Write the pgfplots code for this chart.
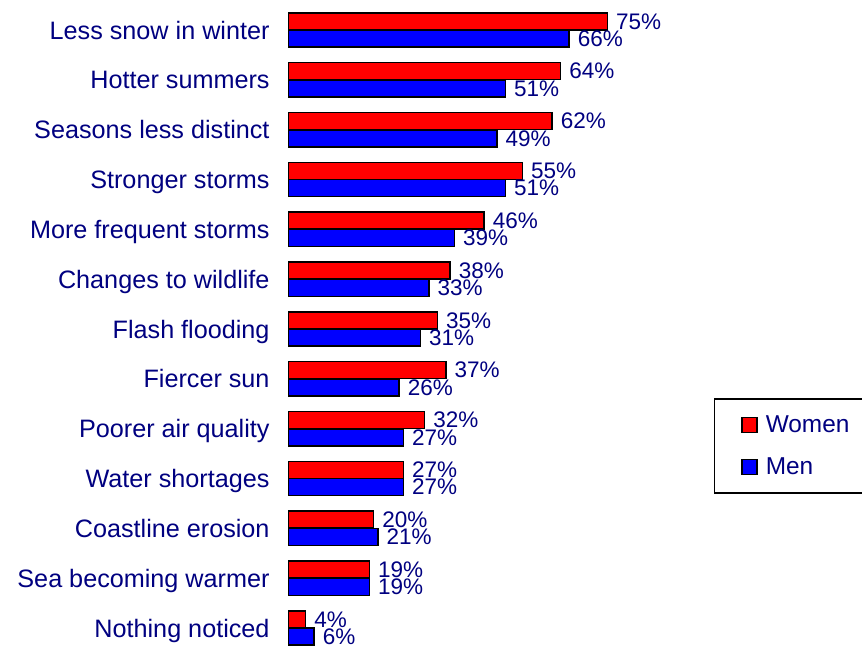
\documentclass[border=0pt]{standalone}
\usepackage{pgfplots}
\pgfplotsset{compat=1.18}
\usepackage{fontspec}
\setmainfont{Liberation Sans}
\definecolor{navytxt}{RGB}{0,0,128}
\definecolor{wred}{RGB}{255,0,0}
\definecolor{mblue}{RGB}{0,0,255}
\begin{document}
\begin{tikzpicture}
\path[use as bounding box] (0,0) rectangle (862bp,646bp);
\begin{axis}[
  at={(288.5bp,0bp)}, anchor=south west,
  scale only axis, width=425bp, height=646bp,
  xmin=0, xmax=100,
  ymin=-0.361, ymax=12.602,
  xbar, bar width=17bp,
  axis line style={draw=none},
  tick style={draw=none},
  xtick=\empty,
  ytick={0,1,2,3,4,5,6,7,8,9,10,11,12},
  yticklabels={Nothing noticed,Sea becoming warmer,Coastline erosion,Water shortages,Poorer air quality,Fiercer sun,Flash flooding,Changes to wildlife,More frequent storms,Stronger storms,Seasons less distinct,Hotter summers,Less snow in winter},
  yticklabel style={font=\fontsize{25.2bp}{29bp}\selectfont, text=navytxt, inner sep=0pt, anchor=base east, xshift=-14.5bp, yshift=-9.1bp},
  clip=false,
  /pgf/number format/assume math mode=true,
  nodes near coords={\pgfmathprintnumber[fixed,precision=0]{\pgfplotspointmeta}\%},
  every node near coord/.append style={font=\fontsize{22.5bp}{26bp}\selectfont, text=navytxt, inner sep=0pt, anchor=west, xshift=8bp},
  legend style={at={(1,0.3832)}, anchor=north west, draw=black, line width=1.6bp, fill=white,
    inner xsep=14bp, inner ysep=16.5bp, row sep=24bp,
    /tikz/every odd column/.append style={column sep=8bp},
    nodes={inner sep=0pt, font=\fontsize{24.4bp}{28bp}\selectfont, text=navytxt}},
  legend cell align=left,
  legend image code/.code={\path (0bp,0bp); \draw[#1, draw=black, line width=1.5bp] (13bp,-7.5bp) rectangle (28bp,7.5bp);},
]
\addplot[fill=wred, draw=black, line width=1.5bp, bar shift=8.6bp] coordinates {
(4,0) (19,1) (20,2) (27,3) (32,4) (37,5) (35,6) (38,7) (46,8) (55,9) (62,10) (64,11) (75,12)};
\addlegendentry{Women}
\addplot[fill=mblue, draw=black, line width=1.5bp, bar shift=-8.6bp] coordinates {
(6,0) (19,1) (21,2) (27,3) (27,4) (26,5) (31,6) (33,7) (39,8) (51,9) (49,10) (51,11) (66,12)};
\addlegendentry{Men}
\end{axis}
\end{tikzpicture}
\end{document}
